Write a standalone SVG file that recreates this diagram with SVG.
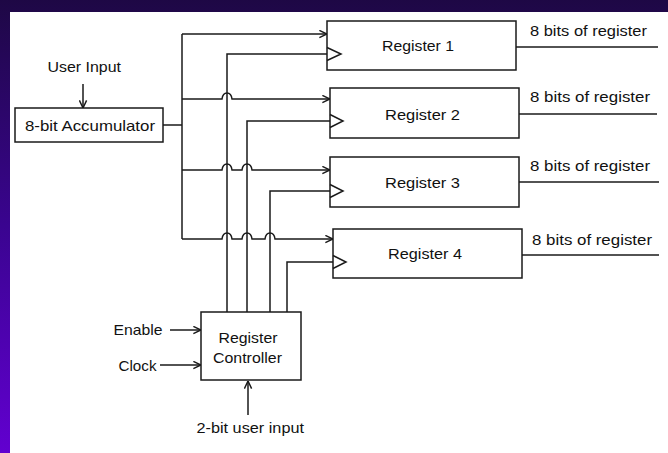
<svg xmlns="http://www.w3.org/2000/svg" width="668" height="453" viewBox="0 0 668 453">
<defs>
<linearGradient id="bg" x1="0" y1="0" x2="0" y2="1">
<stop offset="0" stop-color="#1e0845"/>
<stop offset="0.5" stop-color="#3a0490"/>
<stop offset="1" stop-color="#6200d0"/>
</linearGradient>
<marker id="arr" markerUnits="userSpaceOnUse" markerWidth="9" markerHeight="9" viewBox="0 0 10 10" refX="9.5" refY="5" orient="auto">
<path d="M1,1 L9.5,5 L1,9" fill="none" stroke="#1a1a1a" stroke-width="1.6"/>
</marker>
<style>
.ln{fill:none;stroke:#1a1a1a;stroke-width:1.5}
.bx{fill:#fff;stroke:#1a1a1a;stroke-width:1.5}
.t{font-family:"Liberation Sans",Arial,sans-serif;font-size:15px;fill:#111}
.c{text-anchor:middle}
</style>
</defs>
<rect x="0" y="0" width="668" height="453" fill="url(#bg)"/>
<rect x="10" y="12" width="658" height="441" fill="#fff"/>

<g id="connectors">
<path class="ln" d="M83,84 V108" marker-end="url(#arr)"/>
<path class="ln" d="M163,125 H182"/>
<path class="ln" d="M182,34 V239"/>
<path class="ln" d="M182,34 H327" marker-end="url(#arr)"/>
<path class="ln" d="M182,99 H222 c1,-8 9,-8 10,0 H330" marker-end="url(#arr)"/>
<path class="ln" d="M182,170 H222 c1,-8 9,-8 10,0 H242 c1,-8 9,-8 10,0 H330" marker-end="url(#arr)"/>
<path class="ln" d="M182,239 H222 c1,-8 9,-8 10,0 H242 c1,-8 9,-8 10,0 H265 c1,-8 9,-8 10,0 H333" marker-end="url(#arr)"/>
<path class="ln" d="M227,312 V54 H327"/>
<path class="ln" d="M247,312 V121 H330"/>
<path class="ln" d="M270,312 V191 H330"/>
<path class="ln" d="M287,312 V262 H333"/>
<path class="ln" d="M516,47 H658"/>
<path class="ln" d="M519,114 H657"/>
<path class="ln" d="M519,182 H659"/>
<path class="ln" d="M522,255 H659"/>
<path class="ln" d="M170,330 H201" marker-end="url(#arr)"/>
<path class="ln" d="M160,365 H201" marker-end="url(#arr)"/>
<path class="ln" d="M248,415 V381" marker-end="url(#arr)"/>
</g>

<g id="user-input">
<text class="t" x="47.5" y="72" textLength="73.5" lengthAdjust="spacingAndGlyphs">User Input</text>
</g>

<g id="accumulator">
<rect class="bx" x="15" y="108" width="148" height="34"/>
<text class="t" x="25" y="131" textLength="130" lengthAdjust="spacingAndGlyphs">8-bit Accumulator</text>
</g>

<g id="register1">
<rect class="bx" x="327" y="21" width="189" height="49"/>
<path class="ln" d="M327,47.5 L341,54 L327,60.5"/>
<text class="t" x="382" y="51" textLength="72" lengthAdjust="spacingAndGlyphs">Register 1</text>
</g>
<g id="register2">
<rect class="bx" x="330" y="88" width="189" height="50"/>
<path class="ln" d="M330,114.5 L343,121 L330,127.5"/>
<text class="t" x="385" y="120" textLength="75" lengthAdjust="spacingAndGlyphs">Register 2</text>
</g>
<g id="register3">
<rect class="bx" x="330" y="157" width="189" height="50"/>
<path class="ln" d="M330,184.5 L343,191 L330,197.5"/>
<text class="t" x="385" y="188" textLength="75" lengthAdjust="spacingAndGlyphs">Register 3</text>
</g>
<g id="register4">
<rect class="bx" x="333" y="229" width="189" height="49"/>
<path class="ln" d="M333,255.5 L346,262 L333,268.5"/>
<text class="t" x="388" y="259" textLength="74" lengthAdjust="spacingAndGlyphs">Register 4</text>
</g>

<g id="out1"><text class="t" x="530" y="36" textLength="117" lengthAdjust="spacingAndGlyphs">8 bits of register</text></g>
<g id="out2"><text class="t" x="530" y="102" textLength="120" lengthAdjust="spacingAndGlyphs">8 bits of register</text></g>
<g id="out3"><text class="t" x="530" y="171" textLength="120" lengthAdjust="spacingAndGlyphs">8 bits of register</text></g>
<g id="out4"><text class="t" x="532" y="245" textLength="120" lengthAdjust="spacingAndGlyphs">8 bits of register</text></g>

<g id="controller">
<rect class="bx" x="201" y="312" width="100" height="68"/>
<text class="t" x="218.5" y="343" textLength="59" lengthAdjust="spacingAndGlyphs">Register</text>
<text class="t" x="213" y="363" textLength="69" lengthAdjust="spacingAndGlyphs">Controller</text>
</g>

<g id="enable"><text class="t" x="113.5" y="335" textLength="49" lengthAdjust="spacingAndGlyphs">Enable</text></g>
<g id="clock"><text class="t" x="118.5" y="370.5" textLength="38" lengthAdjust="spacingAndGlyphs">Clock</text></g>
<g id="two-bit-input"><text class="t" x="196.5" y="433" textLength="107.5" lengthAdjust="spacingAndGlyphs">2-bit user input</text></g>
</svg>
